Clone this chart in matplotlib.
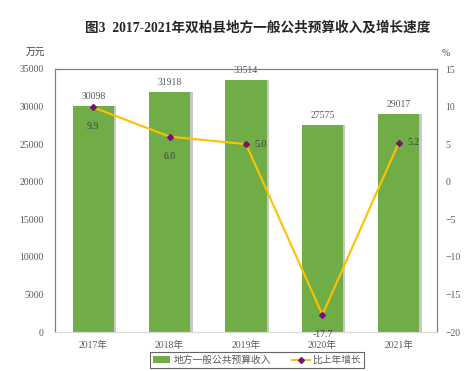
import matplotlib
matplotlib.use("Agg")
import matplotlib.pyplot as plt
from matplotlib.lines import Line2D
from matplotlib.patches import Patch

plt.rcParams['font.family'] = ['Liberation Serif', 'Noto Sans CJK SC', 'DejaVu Sans']
plt.rcParams['axes.unicode_minus'] = False

years = ['2017年', '2018年', '2019年', '2020年', '2021年']
revenue = [30098, 31918, 33514, 27575, 29017]
growth = [9.9, 6.0, 5.0, -17.7, 5.2]
growth_labels = ['9.9', '6.0', '5.0', '-17.7', '5.2']

bar_color = '#70AD47'
line_color = '#FFC000'
marker_color = '#7B1070'
text_color = '#595959'
spine_color = '#7F7F7F'

fig = plt.figure(figsize=(4.77, 3.71), dpi=100)
ax = fig.add_axes([55/477, 1-332/371, (437-55)/477, (332-69)/371])
ax2 = ax.twinx()

x = list(range(len(years)))
# shadow
ax.bar([i + 0.03 for i in x], revenue, width=0.54, color='#C8C8C8', zorder=1)
ax.bar(x, revenue, width=0.54, color=bar_color, zorder=2)
ax.set_ylim(0, 35000)
ax.set_yticks(range(0, 35001, 5000))
ax.set_xlim(-0.5, 4.5)
ax.set_xticks(x)
ax.set_xticklabels(years)
for i, v in enumerate(revenue):
    ax.text(i, v + 700, str(v), ha='center', va='bottom', fontsize=7, color=text_color)

ax2.plot(x, growth, color=line_color, lw=1.5, marker='D', markersize=3,
         markerfacecolor=marker_color, markeredgecolor=marker_color, zorder=5)
ax2.set_ylim(-20, 15)
ax2.set_yticks(range(-20, 16, 5))
ax2.set_yticklabels(['−20', '−15', '−10', '−5', '0', '5', '10', '15'])
offsets = [(0, -14, 'center'), (0, -14, 'center'), (6, 0, 'left'), (0, -14, 'center'), (6, 0, 'left')]
for i, (g, lab) in enumerate(zip(growth, growth_labels)):
    dx, dy, ha = offsets[i]
    ax2.annotate(lab, (i, g), xytext=(dx, dy), textcoords='offset points',
                 ha=ha, va='center', fontsize=7, color='#404040')

for a in (ax, ax2):
    for s in a.spines.values():
        s.set_color(spine_color)
        s.set_linewidth(0.8)
    a.tick_params(length=0, labelsize=7, colors=text_color)
ax.spines['bottom'].set_color('#D9D9D9')
ax2.spines['bottom'].set_color('#D9D9D9')
ax.tick_params(axis='x', pad=6)
ax.tick_params(axis='y', pad=8)
ax2.tick_params(axis='y', pad=6)

fig.text(258/477, 1-28/371, '图3  2017-2021年双柏县地方一般公共预算收入及增长速度',
         ha='center', va='center', fontsize=9.8, fontweight='bold', color='#262626',
         family=['Liberation Serif', 'Noto Sans CJK SC'])
fig.text(35/477, 1-52/371, '万元', ha='center', va='center', fontsize=7, color='#404040',
         family=['Noto Sans CJK SC'])
fig.text(446/477, 1-53/371, '%', ha='center', va='center', fontsize=7, color='#404040')

handles = [Patch(facecolor=bar_color, edgecolor='none'),
           Line2D([0], [0], color=line_color, lw=1.5, marker='D', markersize=3,
                  markerfacecolor=marker_color, markeredgecolor=marker_color)]
leg = fig.legend(handles, ['地方一般公共预算收入', '比上年增长'], loc='center',
                 bbox_to_anchor=(257/477, 1-360/371), ncol=2, fontsize=7,
                 frameon=True, fancybox=False, edgecolor='#404040',
                 handlelength=1.8, handleheight=0.6, columnspacing=2.2,
                 handletextpad=0.3, borderpad=0.3,
                 prop={'family': ['Noto Sans CJK SC'], 'size': 7})
leg.get_frame().set_linewidth(0.8)
for t in leg.get_texts():
    t.set_color(text_color)

fig.savefig('out.png', dpi=100)
